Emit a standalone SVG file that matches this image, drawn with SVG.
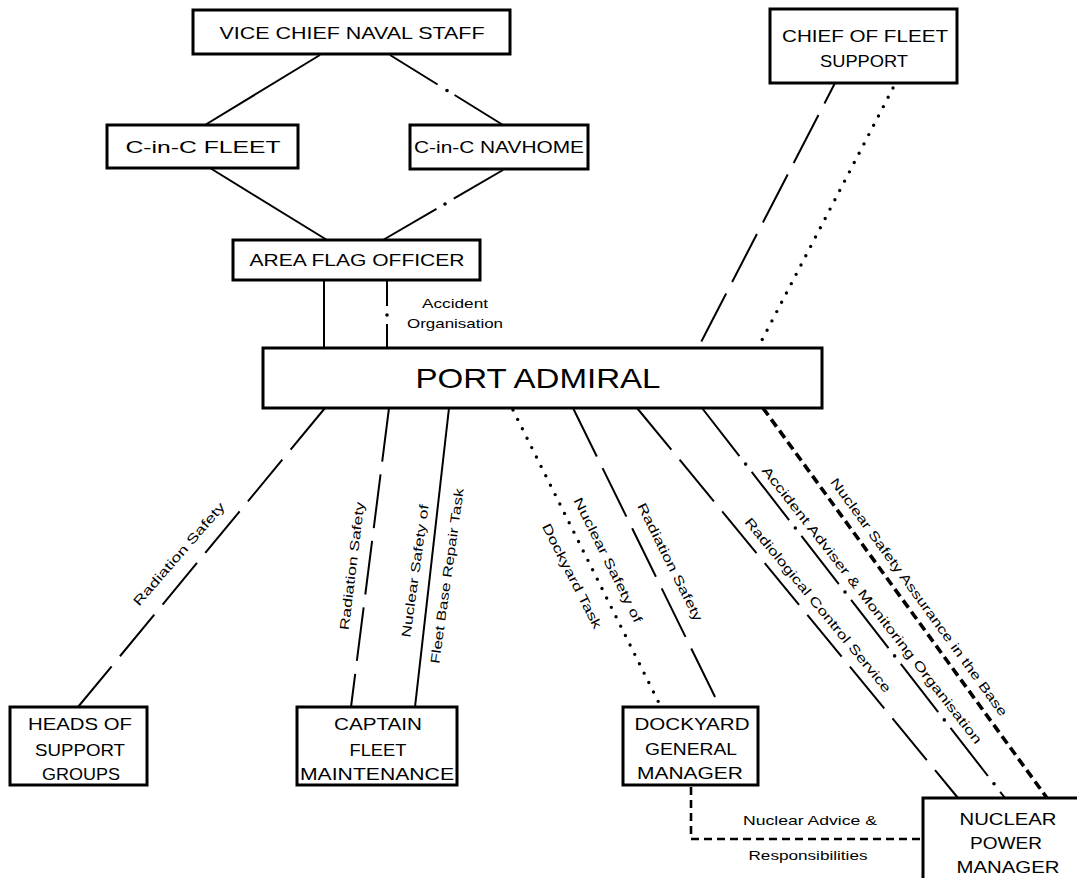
<svg xmlns="http://www.w3.org/2000/svg" width="1077" height="878" viewBox="0 0 1077 878">
<style>
.box{fill:#fff;stroke:#000;stroke-width:3}
.nt{font-family:"Liberation Sans",Arial,sans-serif;font-size:17px;fill:#000;text-anchor:middle}
.pa{font-size:28px}
.lbl{font-family:"Liberation Sans",Arial,sans-serif;font-size:13px;fill:#000;text-anchor:middle}
.rl{dominant-baseline:central}
.ln{fill:none;stroke:#000;stroke-width:2}
.ld{stroke-dasharray:54 13}
.dd{stroke-dasharray:61 10 0.01 10;stroke-linecap:round}
.dot{stroke-width:3.4;stroke-dasharray:0 10.5;stroke-linecap:round}
.bd{stroke-width:3.6;stroke-dasharray:9 5}
.sd{stroke-width:2.6;stroke-dasharray:8 5}
.pt{fill:#000}
</style>
<rect width="1077" height="878" fill="#fff"/>
<g id="connectors">
  <line class="ln" x1="320" y1="55" x2="205" y2="125"/>
  <line class="ln" x1="390" y1="55" x2="503" y2="125" style="stroke-dasharray:56 20 200"/>
  <circle class="pt" cx="447" cy="90.5" r="1.8"/>
  <line class="ln" x1="210" y1="168" x2="327" y2="240"/>
  <line class="ln" x1="503" y1="170" x2="383" y2="240" style="stroke-dasharray:57 20 200"/>
  <circle class="pt" cx="445" cy="204" r="1.8"/>
  <line class="ln" x1="324" y1="280" x2="324" y2="348"/>
  <line class="ln" x1="387" y1="280" x2="387" y2="348" style="stroke-dasharray:26 18 200"/>
  <circle class="pt" cx="387" cy="315" r="1.8"/>
  <line class="ln ld" x1="835" y1="83" x2="698" y2="348" style="stroke-dashoffset:31"/>
  <line class="ln dot" x1="893" y1="88" x2="762" y2="340"/>
  <line class="ln ld" x1="325" y1="408" x2="78" y2="707"/>
  <line class="ln ld" x1="389" y1="408" x2="351" y2="707"/>
  <line class="ln" x1="449" y1="408" x2="415" y2="707"/>
  <line class="ln dot" x1="513" y1="410" x2="660" y2="705"/>
  <line class="ln ld" x1="573" y1="408" x2="720" y2="707"/>
  <line class="ln ld" x1="637" y1="408" x2="958" y2="798"/>
  <line class="ln" x1="702" y1="408" x2="1005" y2="798" style="stroke-dasharray:61 20"/>
  <circle class="pt" cx="745.6" cy="464.1" r="1.8"/>
  <circle class="pt" cx="795.3" cy="528" r="1.8"/>
  <circle class="pt" cx="845" cy="592" r="1.8"/>
  <circle class="pt" cx="894.6" cy="655.9" r="1.8"/>
  <circle class="pt" cx="944.3" cy="719.9" r="1.8"/>
  <circle class="pt" cx="994" cy="783.8" r="1.8"/>
  <line class="ln bd" x1="763" y1="408" x2="1047" y2="798"/>
  <polyline class="ln sd" points="691,787 691,839 922,839"/>
</g>
<g id="labels">
  <text class="lbl" x="455" y="308" textLength="66" lengthAdjust="spacingAndGlyphs">Accident</text>
  <text class="lbl" x="455" y="328" textLength="96" lengthAdjust="spacingAndGlyphs">Organisation</text>
  <text class="lbl rl" transform="translate(179 554) rotate(-49)" textLength="132" lengthAdjust="spacingAndGlyphs">Radiation Safety</text>
  <text class="lbl rl" transform="translate(352 566) rotate(-83)" textLength="129" lengthAdjust="spacingAndGlyphs">Radiation Safety</text>
  <text class="lbl rl" transform="translate(415 571) rotate(-82)" textLength="134" lengthAdjust="spacingAndGlyphs">Nuclear Safety of</text>
  <text class="lbl rl" transform="translate(447 576) rotate(-82)" textLength="177" lengthAdjust="spacingAndGlyphs">Fleet Base Repair Task</text>
  <text class="lbl rl" transform="translate(608 560) rotate(63.5)" textLength="138" lengthAdjust="spacingAndGlyphs">Nuclear Safety of</text>
  <text class="lbl rl" transform="translate(572 576) rotate(63)" textLength="116" lengthAdjust="spacingAndGlyphs">Dockyard Task</text>
  <text class="lbl rl" transform="translate(670 562) rotate(63.5)" textLength="130" lengthAdjust="spacingAndGlyphs">Radiation Safety</text>
  <text class="lbl rl" transform="translate(818 605) rotate(50.5)" textLength="222" lengthAdjust="spacingAndGlyphs">Radiological Control Service</text>
  <text class="lbl rl" transform="translate(872 605) rotate(52)" textLength="348" lengthAdjust="spacingAndGlyphs">Accident Adviser &amp; Monitoring Organisation</text>
  <text class="lbl rl" transform="translate(919 597) rotate(54)" textLength="291" lengthAdjust="spacingAndGlyphs">Nuclear Safety Assurance in the Base</text>
  <text class="lbl" x="810" y="825" textLength="134" lengthAdjust="spacingAndGlyphs">Nuclear Advice &amp;</text>
  <text class="lbl" x="808" y="860" textLength="119" lengthAdjust="spacingAndGlyphs">Responsibilities</text>
</g>
<g id="vcns">
  <rect class="box" x="193" y="10" width="317" height="44"/>
  <text class="nt" x="352" y="38.5" textLength="265" lengthAdjust="spacingAndGlyphs">VICE CHIEF NAVAL STAFF</text>
</g>
<g id="cofs">
  <rect class="box" x="770" y="9" width="187" height="74"/>
  <text class="nt" x="865" y="42" textLength="166" lengthAdjust="spacingAndGlyphs">CHIEF OF FLEET</text>
  <text class="nt" x="864" y="67" textLength="88" lengthAdjust="spacingAndGlyphs">SUPPORT</text>
</g>
<g id="cinc-fleet">
  <rect class="box" x="107" y="125" width="191" height="43"/>
  <text class="nt" x="203" y="152.5" textLength="155" lengthAdjust="spacingAndGlyphs">C-in-C FLEET</text>
</g>
<g id="cinc-navhome">
  <rect class="box" x="410" y="125" width="178" height="44"/>
  <text class="nt" x="499" y="153" textLength="170" lengthAdjust="spacingAndGlyphs">C-in-C NAVHOME</text>
</g>
<g id="area-flag-officer">
  <rect class="box" x="233" y="240" width="247" height="40"/>
  <text class="nt" x="357" y="266" textLength="215" lengthAdjust="spacingAndGlyphs">AREA FLAG OFFICER</text>
</g>
<g id="port-admiral">
  <rect class="box" x="263" y="348" width="559" height="60"/>
  <text class="nt pa" x="538" y="388" textLength="245" lengthAdjust="spacingAndGlyphs">PORT ADMIRAL</text>
</g>
<g id="heads">
  <rect class="box" x="10" y="707" width="137" height="78"/>
  <text class="nt" x="80" y="730" textLength="104" lengthAdjust="spacingAndGlyphs">HEADS OF</text>
  <text class="nt" x="80" y="756" textLength="90" lengthAdjust="spacingAndGlyphs">SUPPORT</text>
  <text class="nt" x="81" y="780" textLength="78" lengthAdjust="spacingAndGlyphs">GROUPS</text>
</g>
<g id="captain">
  <rect class="box" x="297" y="707" width="160" height="78"/>
  <text class="nt" x="378" y="730" textLength="88" lengthAdjust="spacingAndGlyphs">CAPTAIN</text>
  <text class="nt" x="378" y="756" textLength="57" lengthAdjust="spacingAndGlyphs">FLEET</text>
  <text class="nt" x="377" y="780" textLength="154" lengthAdjust="spacingAndGlyphs">MAINTENANCE</text>
</g>
<g id="dgm">
  <rect class="box" x="623" y="707" width="135" height="78"/>
  <text class="nt" x="692" y="730" textLength="115" lengthAdjust="spacingAndGlyphs">DOCKYARD</text>
  <text class="nt" x="691" y="755" textLength="92" lengthAdjust="spacingAndGlyphs">GENERAL</text>
  <text class="nt" x="690" y="779" textLength="106" lengthAdjust="spacingAndGlyphs">MANAGER</text>
</g>
<g id="npm">
  <rect class="box" x="923" y="798" width="170" height="100"/>
  <text class="nt" x="1008" y="825" textLength="97" lengthAdjust="spacingAndGlyphs">NUCLEAR</text>
  <text class="nt" x="1006" y="849" textLength="72" lengthAdjust="spacingAndGlyphs">POWER</text>
  <text class="nt" x="1008" y="873" textLength="103" lengthAdjust="spacingAndGlyphs">MANAGER</text>
</g>
</svg>
